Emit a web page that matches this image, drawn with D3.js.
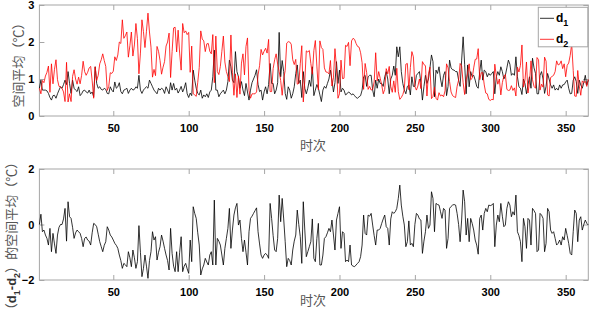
<!DOCTYPE html>
<html>
<head>
<meta charset="utf-8">
<script src="https://cdn.jsdelivr.net/npm/d3@7"></script>
<style>
  body { margin: 0; background: #fff; }
  .tick text { font-family: "Liberation Sans", Arial, sans-serif; font-weight: bold; font-size: 11px; fill: #000; }
  .tick line { stroke: #a6a6a6; }
  .cjk { font-family: "Noto Sans CJK SC", sans-serif; font-size: 13px; fill: #555; }
  .lat { font-family: "Liberation Sans", Arial, sans-serif; font-weight: bold; fill: #333; }
</style>
</head>
<body>
<div id="chart"></div>
<script>
// day index 1..365
var days = d3.range(1, 366);

// d1 : black series, top panel
var d1 = [
  0.75,0.97,0.70,0.70,0.70,0.68,0.61,0.50,0.43,0.55,
  0.56,0.48,0.60,0.70,0.79,0.75,0.85,0.97,0.85,1.20,
  0.88,0.61,0.97,0.75,0.70,0.66,0.79,0.55,0.60,0.68,
  0.70,0.65,0.62,0.70,0.60,0.65,0.52,1.33,0.88,0.75,
  0.79,0.72,0.70,0.75,0.72,0.61,0.60,0.79,0.70,0.65,
  0.92,0.75,0.79,0.90,0.66,0.60,0.70,0.72,0.75,0.61,
  0.70,0.75,0.70,0.72,0.79,0.75,1.10,0.70,0.61,0.70,
  0.75,0.79,0.75,0.97,0.88,0.79,0.70,0.65,0.60,0.75,
  0.70,0.75,0.72,0.61,0.79,0.70,0.60,0.90,0.70,0.88,
  0.70,0.75,0.62,0.70,0.80,0.65,0.75,0.90,0.60,0.50,
  0.62,0.55,1.24,0.97,0.75,0.61,0.57,0.70,0.48,0.57,
  0.52,0.60,0.50,0.65,0.70,1.06,1.78,0.70,0.70,0.52,
  0.60,0.65,0.70,0.60,0.70,0.93,1.51,1.33,0.97,0.90,
  1.74,1.20,1.06,0.75,0.93,0.70,0.55,0.88,0.65,0.43,
  0.70,0.90,1.00,1.10,1.25,0.85,0.66,0.70,0.43,0.65,
  0.79,0.60,0.85,1.42,0.88,0.88,0.60,0.70,0.90,2.26,
  1.06,1.50,1.20,0.61,0.45,0.79,0.70,0.48,0.60,0.79,
  1.15,1.38,0.88,0.97,0.50,1.20,0.75,0.60,0.75,0.97,
  0.80,1.33,0.55,0.70,0.85,0.75,0.57,0.39,0.70,0.80,
  0.75,0.88,1.00,1.24,0.97,0.65,0.90,1.47,0.88,1.24,
  0.65,0.75,0.70,0.57,0.60,0.65,0.62,0.57,0.60,0.55,
  0.50,0.48,0.52,0.55,0.70,1.06,1.10,0.80,1.06,1.10,
  1.10,0.70,0.52,0.97,0.75,1.00,0.88,0.88,0.80,1.06,
  1.20,1.00,0.60,1.00,1.10,1.35,1.10,1.87,1.60,1.87,
  1.20,0.88,0.70,0.60,0.80,0.84,0.57,1.06,0.80,0.80,
  1.10,1.15,1.20,0.90,0.43,0.79,1.10,0.88,1.00,1.30,
  1.65,1.47,0.52,1.24,1.15,1.33,1.00,0.79,1.10,1.20,
  0.55,0.80,1.51,1.30,1.25,1.24,1.20,1.20,0.97,0.80,
  1.51,2.14,1.40,0.60,1.38,0.79,1.20,1.06,1.10,0.97,
  0.80,0.75,1.20,1.51,0.97,1.24,1.20,1.06,1.15,1.10,
  1.15,1.20,0.60,1.06,1.20,1.10,1.33,1.20,1.00,1.10,
  1.30,1.51,1.40,1.10,1.15,1.10,1.60,1.06,0.79,0.75,
  0.58,1.00,0.88,0.60,0.84,1.06,0.75,1.56,1.30,1.15,
  0.60,0.60,1.10,1.20,1.00,0.61,0.80,1.15,1.00,0.84,
  0.75,0.84,0.70,0.75,0.70,0.84,0.75,0.84,0.85,0.92,
  0.97,0.75,0.60,0.61,0.97,1.06,0.93,0.61,0.97,0.84,
  0.75,0.90,1.10,0.84,0.97
];

// d2 : red series, top panel
var d2 = [
  0.75,0.60,0.96,0.90,1.08,1.18,1.35,0.64,1.41,0.87,
  1.26,1.52,0.98,0.80,0.79,0.75,0.65,0.39,1.45,0.38,
  0.60,0.39,1.07,1.25,1.00,0.86,1.05,0.87,1.10,1.48,
  1.20,1.10,1.18,1.30,1.34,0.95,0.48,1.33,0.96,1.10,
  1.41,1.52,1.68,1.50,1.34,0.69,0.80,1.17,1.15,1.21,
  1.60,1.50,1.65,2.00,1.96,2.60,2.10,2.17,2.27,1.59,
  1.90,2.27,1.62,1.92,2.50,2.09,1.14,1.70,2.60,2.28,
  1.85,2.29,2.78,2.27,1.86,1.05,1.26,1.09,1.88,1.75,
  1.50,1.13,1.32,1.47,1.89,2.00,2.24,1.04,1.74,2.38,
  2.40,1.73,2.32,1.70,1.24,2.50,2.25,2.30,2.20,2.26,
  1.18,1.89,0.60,0.57,0.53,0.91,1.31,2.30,2.08,2.03,
  1.74,1.95,1.96,1.75,1.68,2.20,0.90,2.16,1.20,1.12,
  1.34,1.75,2.16,1.46,1.20,1.07,0.93,2.19,1.17,0.56,
  1.14,0.50,1.08,0.59,1.43,1.68,1.11,1.88,2.11,0.69,
  0.48,0.60,0.60,0.60,0.65,1.11,1.36,1.80,1.65,1.75,
  1.83,1.70,2.07,0.66,0.66,1.28,1.52,1.68,1.40,1.20,
  0.96,0.56,1.00,1.23,1.97,2.01,2.00,1.94,1.52,1.39,
  1.53,0.86,0.88,1.41,1.90,0.38,0.95,1.76,1.73,1.77,
  1.42,1.13,1.77,2.04,1.35,0.71,2.03,1.85,1.80,1.30,
  1.19,1.18,1.14,1.50,0.81,1.03,1.82,1.31,0.48,0.60,
  1.51,1.01,1.02,1.91,1.88,1.99,1.36,2.03,2.10,2.07,
  1.96,1.88,1.86,1.71,1.44,0.72,1.42,1.18,0.72,0.80,
  0.70,0.72,0.92,1.71,0.95,1.20,1.02,0.84,0.60,0.72,
  1.28,1.14,1.34,0.80,0.64,0.95,0.64,1.29,0.66,0.45,
  0.50,0.58,0.72,1.40,1.42,0.71,1.31,1.74,1.60,0.80,
  0.70,0.81,1.00,0.74,1.47,1.39,1.36,0.54,1.14,1.32,
  0.47,0.53,0.78,0.48,0.43,0.63,0.54,0.57,0.52,0.68,
  1.41,1.30,0.93,0.65,0.55,0.52,0.50,0.80,0.97,1.42,
  1.35,0.90,0.58,0.98,1.16,1.41,0.98,1.02,1.30,1.53,
  1.54,1.82,0.98,1.17,1.17,0.84,0.62,0.60,0.45,0.42,
  0.45,0.44,1.40,1.08,0.86,1.00,0.57,0.90,1.08,1.12,
  0.72,0.69,0.70,0.82,0.69,0.76,0.54,1.32,1.19,1.37,
  1.92,0.78,0.96,1.46,0.62,0.90,1.49,0.98,0.80,0.75,
  1.58,1.52,0.70,0.86,0.78,1.59,1.48,0.57,0.54,1.04,
  1.07,1.10,1.20,1.49,1.38,1.40,1.49,1.28,1.41,1.06,
  1.37,1.43,1.64,1.95,1.23,0.54,0.53,1.23,0.81,0.56,
  0.95,0.90,0.94,0.80,0.99
];

// (d1-d2) : bottom panel
var dDiff = [
  0.00,0.37,-0.26,-0.20,-0.38,-0.50,-0.74,-0.14,-0.98,-0.32,
  -0.70,-1.04,-0.38,-0.10,0.00,0.00,0.20,0.58,-0.60,0.82,
  0.28,0.22,-0.10,-0.50,-0.30,-0.20,-0.26,-0.32,-0.50,-0.80,
  -0.50,-0.45,-0.56,-0.60,-0.74,-0.30,0.04,0.00,-0.08,-0.35,
  -0.62,-0.80,-0.98,-0.75,-0.62,-0.08,-0.20,-0.38,-0.45,-0.56,
  -0.68,-0.75,-0.86,-1.10,-1.30,-1.58,-1.40,-1.45,-1.52,-0.98,
  -1.20,-1.52,-0.92,-1.20,-1.58,-1.34,-0.04,-1.00,-1.88,-1.58,
  -1.10,-1.50,-1.94,-1.30,-0.98,-0.26,-0.56,-0.44,-1.28,-1.00,
  -0.80,-0.38,-0.60,-0.86,-1.10,-1.30,-1.64,-0.14,-1.04,-1.50,
  -1.70,-0.98,-1.70,-1.00,-0.44,-1.70,-1.50,-1.40,-1.60,-1.76,
  -0.56,-1.34,0.64,0.40,0.22,-0.30,-0.74,-1.82,-1.60,-1.46,
  -1.22,-1.35,-1.46,-1.10,-0.98,-1.46,0.88,-1.46,-0.50,-0.60,
  -0.74,-1.10,-1.46,-0.86,-0.50,-0.14,0.58,-0.86,-0.20,0.34,
  0.60,0.76,-0.02,0.16,-0.50,-0.98,-0.56,-1.00,-1.46,-0.26,
  0.22,0.30,0.40,0.50,0.60,-0.26,-0.70,-1.10,-1.22,-1.10,
  -1.04,-1.10,-1.22,0.76,0.22,-0.40,-0.92,-0.98,-0.50,1.06,
  0.10,0.94,0.20,-0.62,-1.52,-1.22,-1.30,-1.46,-0.92,-0.60,
  -0.38,0.52,0.00,-0.44,-1.40,0.82,-0.20,-1.16,-0.98,-0.80,
  -0.62,0.20,-1.22,-1.34,-0.50,0.04,-1.46,-1.46,-1.10,-0.50,
  -0.44,-0.30,-0.14,-0.26,0.16,-0.38,-0.92,0.16,0.40,0.64,
  -0.86,-0.26,-0.32,-1.34,-1.28,-1.34,-0.74,-1.46,-1.50,-1.52,
  -1.46,-1.40,-1.34,-1.16,-0.74,0.34,-0.32,-0.38,0.34,0.30,
  0.40,-0.02,-0.40,-0.74,-0.20,-0.20,-0.14,0.04,0.20,0.34,
  -0.08,-0.14,-0.74,0.20,0.46,0.40,0.46,0.58,0.94,1.42,
  0.70,0.30,-0.02,-0.80,-0.62,0.13,-0.74,-0.68,-0.80,0.00,
  0.40,0.34,0.20,0.16,-1.04,-0.60,-0.26,0.34,-0.14,-0.02,
  1.18,0.94,-0.26,0.76,0.72,0.70,0.46,0.22,0.58,0.52,
  -0.86,-0.50,0.58,0.65,0.70,0.72,0.70,0.40,0.00,-0.62,
  0.16,1.24,0.82,-0.38,0.22,-0.62,0.22,0.04,-0.20,-0.56,
  -0.74,-1.07,0.22,0.34,-0.20,0.40,0.58,0.46,0.70,0.68,
  0.70,0.76,-0.80,-0.02,0.34,0.10,0.76,0.30,-0.08,-0.02,
  0.58,0.82,0.70,0.28,0.46,0.34,1.06,-0.26,-0.40,-0.62,
  -1.34,0.22,-0.08,-0.86,0.22,0.16,-0.74,0.58,0.50,0.40,
  -0.98,-0.92,0.40,0.34,0.22,-0.98,-0.68,0.58,0.46,-0.20,
  -0.32,-0.26,-0.50,-0.74,-0.68,-0.56,-0.74,-0.44,-0.56,-0.14,
  -0.40,-0.68,-1.04,-1.10,-0.26,0.52,0.40,-0.62,0.16,0.28,
  -0.20,0.00,0.16,0.04,-0.02
];

var xTicks = [50, 100, 150, 200, 250, 300, 350];
var yTicksTop = [0, 1, 2, 3];
var yTicksBottom = [-2, 0, 2];

var width = 590, height = 317;
var left = 39.4, right = 588.3;

var svg = d3.select("#chart").append("svg")
  .attr("width", width)
  .attr("height", height);

var x = d3.scaleLinear().domain([1, 365]).range([left, right]);

// draws one axes box with ticks on all four sides (matlab style)
function drawPanel(top, bottom, yDomain, yTicks) {
  var y = d3.scaleLinear().domain(yDomain).range([bottom, top]);
  var g = svg.append("g");

  g.append("g")
    .attr("transform", "translate(0," + bottom + ")")
    .call(d3.axisBottom(x).tickValues(xTicks).tickSize(-5).tickPadding(8))
    .call(function(a) { a.select(".domain").remove(); });
  g.append("g")
    .attr("transform", "translate(0," + top + ")")
    .call(d3.axisTop(x).tickValues(xTicks).tickSize(-5).tickFormat(""))
    .call(function(a) { a.select(".domain").remove(); });
  g.append("g")
    .attr("transform", "translate(" + left + ",0)")
    .call(d3.axisLeft(y).tickValues(yTicks).tickSize(-5).tickPadding(5).tickFormat(d3.format("d")))
    .call(function(a) { a.select(".domain").remove(); });
  g.append("g")
    .attr("transform", "translate(" + right + ",0)")
    .call(d3.axisRight(y).tickValues(yTicks).tickSize(-5).tickFormat(""))
    .call(function(a) { a.select(".domain").remove(); });

  g.append("rect")
    .attr("x", left).attr("y", top)
    .attr("width", right - left).attr("height", bottom - top)
    .attr("fill", "none")
    .attr("stroke", "#a6a6a6")
    .attr("stroke-width", 1);
  return y;
}

function drawLine(y, values, color) {
  var line = d3.line()
    .x(function(d, i) { return x(days[i]); })
    .y(function(d) { return y(d); });
  svg.append("path")
    .datum(values)
    .attr("d", line)
    .attr("fill", "none")
    .attr("stroke", color)
    .attr("stroke-width", 0.8)
    .attr("stroke-linejoin", "round");
}

// top panel
var y1 = drawPanel(5, 116, [0, 3], yTicksTop);
drawLine(y1, d1, "#000");
drawLine(y1, d2, "#ff0000");

// bottom panel
var y2 = drawPanel(169, 280, [-2, 2], yTicksBottom);
drawLine(y2, dDiff, "#000");

// axis labels
svg.append("text").attr("class", "cjk")
  .attr("x", 313).attr("y", 150)
  .attr("text-anchor", "middle")
  .text("时次");
svg.append("text").attr("class", "cjk")
  .attr("x", 313).attr("y", 305)
  .attr("text-anchor", "middle")
  .text("时次");

svg.append("text").attr("class", "cjk")
  .attr("transform", "translate(23,62) rotate(-90)")
  .attr("text-anchor", "middle")
  .text("空间平均（℃）");

// bottom y label, built from pieces so that d1-d2 can be bold with subscripts
var lab = svg.append("text").attr("class", "cjk")
  .attr("transform", "translate(16,236) rotate(-90)")
  .attr("text-anchor", "middle");
lab.append("tspan").text("（");
lab.append("tspan").attr("class", "lat").attr("font-size", "13px").text("d");
lab.append("tspan").attr("class", "lat").attr("font-size", "9px").attr("dy", 4).text("1");
lab.append("tspan").attr("class", "lat").attr("font-size", "13px").attr("dy", -4).text("-d");
lab.append("tspan").attr("class", "lat").attr("font-size", "9px").attr("dy", 4).text("2");
lab.append("tspan").attr("dy", -4).text("）的空间平均（℃）");

// legend
var legend = svg.append("g");
legend.append("rect")
  .attr("x", 538.3).attr("y", 7.3)
  .attr("width", 49.5).attr("height", 39.5)
  .attr("fill", "#fff")
  .attr("stroke", "#a6a6a6");
var legendItems = [{name: "1", color: "#000", yy: 18.3}, {name: "2", color: "#ff0000", yy: 39.3}];
legendItems.forEach(function(it) {
  legend.append("line")
    .attr("x1", 540).attr("x2", 554)
    .attr("y1", it.yy).attr("y2", it.yy)
    .attr("stroke", it.color).attr("stroke-width", 0.8);
  var t = legend.append("text")
    .attr("x", 556).attr("y", it.yy + 4)
    .attr("font-family", "Liberation Sans, Arial, sans-serif")
    .attr("font-weight", "bold")
    .attr("font-size", "12px")
    .attr("fill", "#000");
  t.append("tspan").text("d");
  t.append("tspan").attr("font-size", "9px").attr("dy", 4).text(it.name);
});
</script>
</body>
</html>
